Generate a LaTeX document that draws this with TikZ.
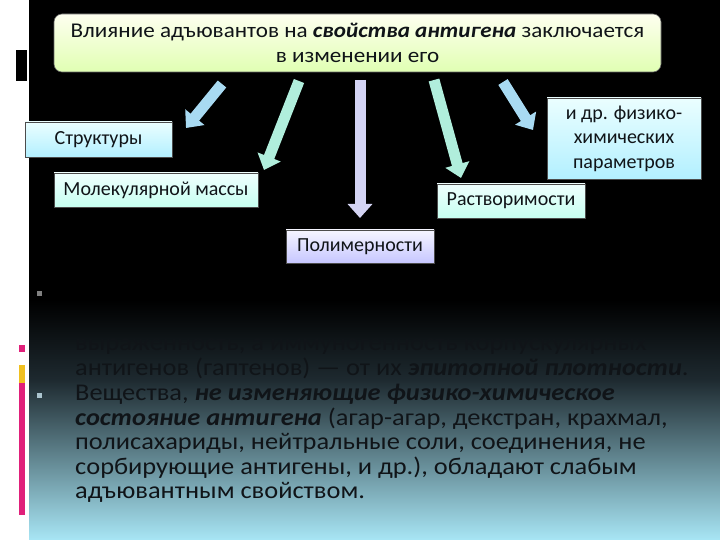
\documentclass[tikz,border=0pt]{standalone}
\usepackage{fontspec}
\setmainfont{Carlito}
\newfontfamily\widefont{Carlito}[FakeStretch=1.1]
\usetikzlibrary{arrows.meta}
\definecolor{bgmid}{HTML}{1E2A30}
\definecolor{bgbot}{HTML}{A8E6F5}
\definecolor{txt}{HTML}{101418}
\definecolor{pinkbar}{HTML}{E0207A}
\definecolor{yellowbar}{HTML}{F0C020}
\definecolor{arblue}{HTML}{A8DAF2}
\definecolor{armint}{HTML}{B0EEDC}
\definecolor{arlav}{HTML}{D4D4F4}
\tikzset{
  boxbase/.style={draw=black!70, line width=0.6pt, inner sep=0pt, text=txt, font=\fontsize{20}{24.5}\selectfont, align=center},
  bluebox/.style={boxbase, top color=blue!4!cyan!8, bottom color=blue!20!cyan!30},
  mintbox/.style={boxbase, top color=green!8!cyan!6, bottom color=green!25!cyan!22},
  lavbox/.style={boxbase, top color=blue!4, bottom color=blue!22},
  topbox/.style={draw=black!60, line width=0.6pt, rounded corners=8pt, top color=green!6!yellow!6, bottom color=green!40!yellow!30, text=txt, align=center, inner sep=0pt, font=\widefont\fontsize{21}{24.5}\selectfont},
  blockarrow/.style={line width=11pt, -{Triangle[width=24pt,length=14pt]}},
  bullettext/.style={anchor=north west, align=left, inner sep=0pt, text=txt, font=\widefont\fontsize{24}{24.5}\selectfont},
  bulletmark/.style={fill=#1, minimum size=5pt, inner sep=0pt}
}
\begin{document}
\begin{tikzpicture}[x=1pt,y=-1pt]
\useasboundingbox (0,0) rectangle (720,540);
\fill[white] (0,0) rectangle (720,540);
% slide background
\fill[black] (29,0) rectangle (720,301);
\shade[top color=black, bottom color=bgmid] (29,300) rectangle (720,381);
\shade[top color=bgmid, bottom color=bgbot] (29,380) rectangle (720,540);
% left margin marks
\fill[black] (16,50) rectangle (27,81);
\fill[pinkbar] (19,345) rectangle (25,352);
\fill[yellowbar] (19,365) rectangle (25,383);
\fill[pinkbar] (19,383) rectangle (25,515);

% top box
\node[topbox, minimum width=607pt, minimum height=58pt] (top) at (357.5,43)
  {Влияние адъювантов на \textbf{\textit{свойства антигена}} заключается\\в изменении его};

% target boxes
\node[bluebox, minimum width=147pt, minimum height=35pt] (struct) at (98.5,139.5) {Структуры};
\node[mintbox, minimum width=204pt, minimum height=34pt] (mol) at (156,190) {Молекулярной массы};
\node[lavbox, minimum width=148pt, minimum height=33pt] (poly) at (360,246.5) {Полимерности};
\node[mintbox, minimum width=148pt, minimum height=34pt] (rast) at (511,201) {Растворимости};
\node[bluebox, minimum width=154pt, minimum height=81pt] (other) at (624,138.5)
  {и др. физико-\\химических\\параметров};

% arrow end points
\coordinate (a1s) at (222,84);  \coordinate (a1e) at (186,128);
\coordinate (a2s) at (299,81);  \coordinate (a2e) at (264,170);
\coordinate (a3s) at (360,80);  \coordinate (a3e) at (360,218);
\coordinate (a4s) at (434,80);  \coordinate (a4e) at (461,178);
\coordinate (a5s) at (503,82);  \coordinate (a5e) at (533,130);

\draw[blockarrow, arblue] (a1s) -- (a1e);
\draw[blockarrow, armint] (a2s) -- (a2e);
\draw[blockarrow, arlav] (a3s) -- (a3e);
\draw[blockarrow, armint] (a4s) -- (a4e);
\draw[blockarrow, arblue] (a5s) -- (a5e);

% bullet list
\node[bulletmark=gray] (b1) at (39.5,293) {};
\node[bulletmark=gray!70!cyan!60] (b2) at (39.5,395) {};
\node[bullettext] (t1) at (75,339)
  {выраженность, а иммуногенность корпускулярных\\
   антигенов (гаптенов) — от их \textbf{\textit{эпитопной плотности}}.};
\node[bullettext] (t2) at (75,384)
  {Вещества, \textbf{\textit{не изменяющие физико-химическое}}\\
   \textbf{\textit{состояние антигена}} (агар-агар, декстран, крахмал,\\
   полисахариды, нейтральные соли, соединения, не\\
   сорбирующие антигены, и др.), обладают слабым\\
   адъювантным свойством.};
\end{tikzpicture}
\end{document}
